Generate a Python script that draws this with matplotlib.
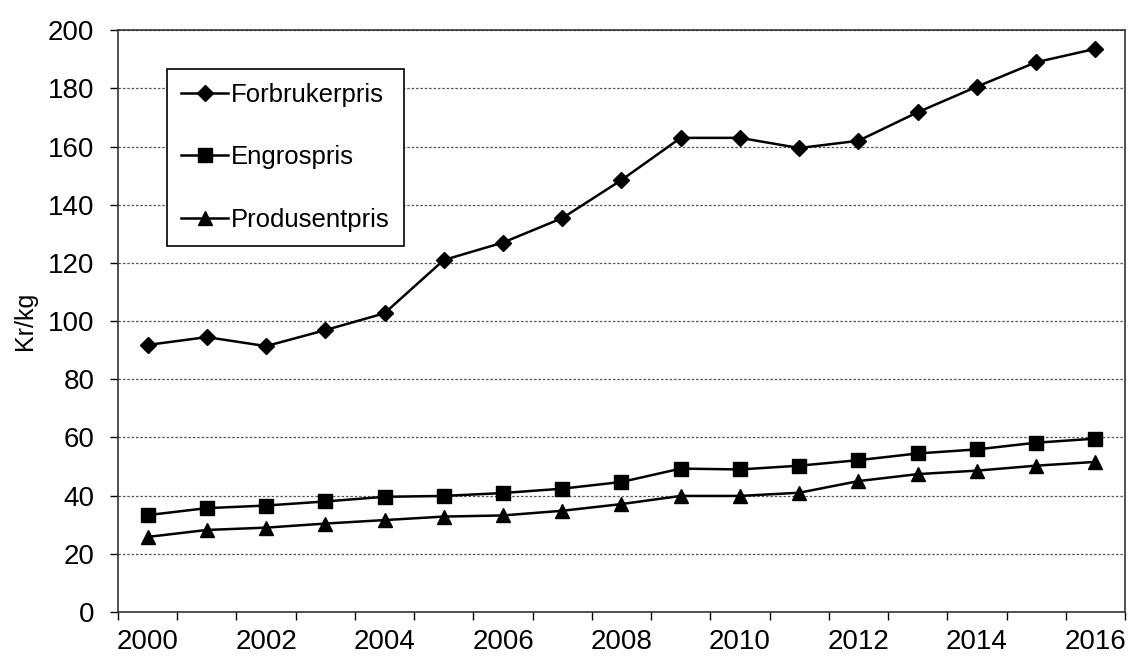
import matplotlib.pyplot as plt
from matplotlib.ticker import MultipleLocator

plt.rcParams['font.family'] = ['Liberation Sans', 'DejaVu Sans']

years = list(range(2000, 2017))
forbrukerpris = [91.8, 94.5, 91.4, 96.9, 102.7, 121.0, 127.0, 135.4, 148.5, 163.0,
                 163.0, 159.5, 162.0, 171.8, 180.6, 189.0, 193.6]
engrospris = [33.3, 35.7, 36.6, 38.0, 39.6, 39.9, 40.9, 42.4, 44.7, 49.3,
              49.0, 50.3, 52.2, 54.5, 55.9, 58.2, 59.6]
produsentpris = [25.8, 28.2, 29.0, 30.4, 31.6, 32.8, 33.2, 34.8, 37.1, 39.9,
                 39.9, 41.0, 45.0, 47.4, 48.6, 50.3, 51.6]
xticks = list(range(2000, 2017, 2))

fig = plt.figure(figsize=(11.31, 6.57), dpi=100)
ax = fig.add_axes([0.1043, 0.0685, 0.8904, 0.8855])

ax.plot(years, forbrukerpris, color='black', lw=1.8, marker='D', ms=8, label='Forbrukerpris')
ax.plot(years, engrospris, color='black', lw=1.8, marker='s', ms=9.5, label='Engrospris')
ax.plot(years, produsentpris, color='black', lw=1.8, marker='^', ms=10.5, label='Produsentpris')

ax.set_xlim(1999.5, 2016.5)
ax.set_ylim(0, 200)
ax.set_yticks(range(0, 201, 20))
ax.set_xticks(xticks)
ax.xaxis.set_minor_locator(MultipleLocator(1, offset=0.5))
ax.tick_params(axis='x', which='major', length=0, labelsize=20, pad=12)
ax.tick_params(axis='x', which='minor', length=6, width=1, direction='out')
ax.tick_params(axis='y', length=6, width=1, labelsize=20, pad=11)

ax.yaxis.grid(True, linestyle=(0, (2, 1.5)), color='#555555', lw=0.9)
ax.set_axisbelow(True)
for s in ax.spines.values():
    s.set_color('#333333')
    s.set_linewidth(1.2)

ax.set_ylabel('Kr/kg', fontsize=18, labelpad=8)

leg = ax.legend(loc='upper left', bbox_to_anchor=(0.0485, 0.934), fontsize=18.5,
                frameon=True, fancybox=False, edgecolor='black', framealpha=1,
                labelspacing=1.5, handlelength=1.85, handletextpad=0.1,
                borderpad=0.55, borderaxespad=0)
leg.get_frame().set_linewidth(1.2)

fig.savefig('out.png', dpi=100)
